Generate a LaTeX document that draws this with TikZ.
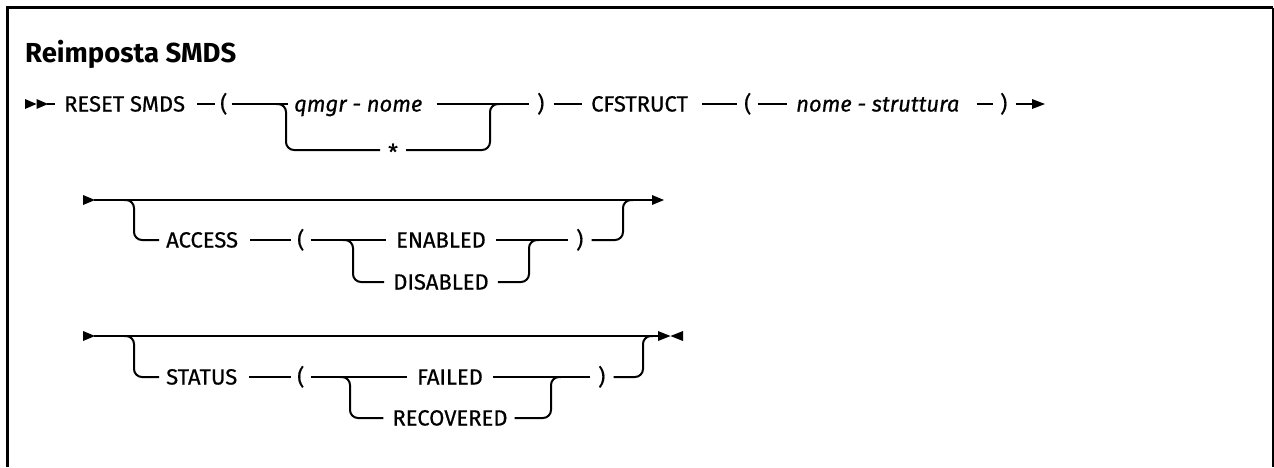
\documentclass[tikz,border=0pt]{standalone}
\usepackage{fontspec}
\newfontfamily\plex{Fira Sans}
\newfontfamily\plexrow[FakeBold=0.6]{Fira Sans}
\newfontfamily\plexit[FakeBold=0.6]{Fira Sans Italic}
\begin{document}
\begin{tikzpicture}[x=1pt,y=-1pt,
  lbl/.style={font=\plexrow\fontsize{22}{26}\selectfont, inner sep=0pt, text height=15pt, text depth=0pt, anchor=west},
  var/.style={lbl, font=\plexit\fontsize{22}{26}\selectfont},
  rail/.style={line width=2pt},
  branch/.style={rail, rounded corners=8pt},
  tipfill/.style={fill=black}]
\useasboundingbox (0,0) rectangle (1274,467);
% frame
\draw[line width=3pt] (7.5,467) -- (7.5,7.5) -- (1273,7.5);
\draw[line width=1.5pt] (1273,7.5) -- (1273,467);
% title
\node[font=\plex\bfseries\fontsize{27.5}{32}\selectfont, anchor=base west, inner sep=0pt] (title) at (25,62) {Reimposta SMDS};

% ---------- row 1 ----------
\fill[tipfill] (25,99) -- (36.5,104) -- (25,109) -- cycle;
\fill[tipfill] (36.5,99) -- (48,104) -- (36.5,109) -- cycle;
\coordinate (s1) at (47,104);
\node[lbl] (reset) at (64,104) {RESET SMDS};
\node[lbl] (lp1) at (220,104) {(};
\node[var] (qmgr) at (294,104) {qmgr - nome};
\node[lbl] (star) at (388,152.5) {*};
\node[lbl] (rp1) at (537,104) {)};
\node[lbl] (cfs) at (591,104) {CFSTRUCT};
\node[lbl] (lp2) at (744,104) {(};
\node[var] (nome) at (796,104) {nome - struttura};
\node[lbl] (rp2) at (1000,104) {)};
\coordinate (e1) at (1033,104);
\fill[tipfill] (1032,99) -- (1045,104) -- (1032,109) -- cycle;

\draw[rail] (s1) -- ([xshift=-9pt]reset.west);
\draw[rail] ([xshift=12pt]reset.east) -- ([xshift=-5pt]lp1.west);
\draw[rail] ([xshift=4pt]lp1.east) -- ([xshift=-6pt]qmgr.west);
\draw[branch] (276,104) -- (286,104) -- (286,150) -- ([xshift=-8pt,yshift=2.5pt]star.west);
\draw[branch] ([xshift=8pt,yshift=2.5pt]star.east) -- (490,150) -- (490,104) -- (500,104);
\draw[rail] ([xshift=14pt]qmgr.east) -- ([xshift=-8pt]rp1.west);
\draw[rail] ([xshift=9pt]rp1.east) -- ([xshift=-9pt]cfs.west);
\draw[rail] ([xshift=14pt]cfs.east) -- ([xshift=-7pt]lp2.west);
\draw[rail] ([xshift=6pt]lp2.east) -- ([xshift=-9pt]nome.west);
\draw[rail] ([xshift=17pt]nome.east) -- ([xshift=-7pt]rp2.west);
\draw[rail] ([xshift=8pt]rp2.east) -- (e1);

% ---------- row 2 ----------
\fill[tipfill] (83,195) -- (95,200) -- (83,205) -- cycle;
\coordinate (s2) at (94,200);
\coordinate (e2) at (653,200);
\fill[tipfill] (652,195) -- (664,200) -- (652,205) -- cycle;
\node[lbl] (access) at (166,240) {ACCESS};
\node[lbl] (lp3) at (297,240) {(};
\node[lbl,anchor=center] (enabled) at (441,240) {ENABLED};
\node[lbl,anchor=center] (disabled) at (441,282) {DISABLED};
\node[lbl] (rp3) at (576,240) {)};

\draw[rail] (s2) -- (e2);
\draw[branch] (124,200) -- (134,200) -- (134,240) -- ([xshift=-7pt]access.west);
\draw[rail] ([xshift=12pt]access.east) -- ([xshift=-6pt]lp3.west);
\draw[rail] ([xshift=6pt]lp3.east) -- ([xshift=-10pt]enabled.west);
\draw[branch] (343,240) -- (353,240) -- (353,282) -- ([xshift=-9pt]disabled.west);
\draw[rail] ([xshift=10pt]enabled.east) -- ([xshift=-8pt]rp3.west);
\draw[branch] ([xshift=9pt]disabled.east) -- (529,282) -- (529,240) -- (539,240);
\draw[branch] ([xshift=8pt]rp3.east) -- (623,240) -- (623,200) -- (633,200);

% ---------- row 3 ----------
\fill[tipfill] (83,331) -- (95,336) -- (83,341) -- cycle;
\coordinate (s3) at (94,336);
\coordinate (e3) at (659,336);
\fill[tipfill] (658,331) -- (670.5,336) -- (658,341) -- cycle;
\fill[tipfill] (683,331) -- (670.5,336) -- (683,341) -- cycle;
\node[lbl] (status) at (166,377) {STATUS};
\node[lbl] (lp4) at (297,377) {(};
\node[lbl,anchor=center] (failed) at (450,377) {FAILED};
\node[lbl,anchor=center] (recovered) at (450,418) {RECOVERED};
\node[lbl] (rp4) at (598,377) {)};

\draw[rail] (s3) -- (e3);
\draw[branch] (124,336) -- (134,336) -- (134,377) -- ([xshift=-7pt]status.west);
\draw[rail] ([xshift=12pt]status.east) -- ([xshift=-6pt]lp4.west);
\draw[rail] ([xshift=6pt]lp4.east) -- ([xshift=-10pt]failed.west);
\draw[branch] (340,377) -- (350,377) -- (350,418) -- ([xshift=-9pt]recovered.west);
\draw[rail] ([xshift=10pt]failed.east) -- ([xshift=-8pt]rp4.west);
\draw[branch] ([xshift=7pt]recovered.east) -- (551,418) -- (551,377) -- (561,377);
\draw[branch] ([xshift=8pt]rp4.east) -- (643,377) -- (643,336) -- (653,336);
\end{tikzpicture}
\end{document}
